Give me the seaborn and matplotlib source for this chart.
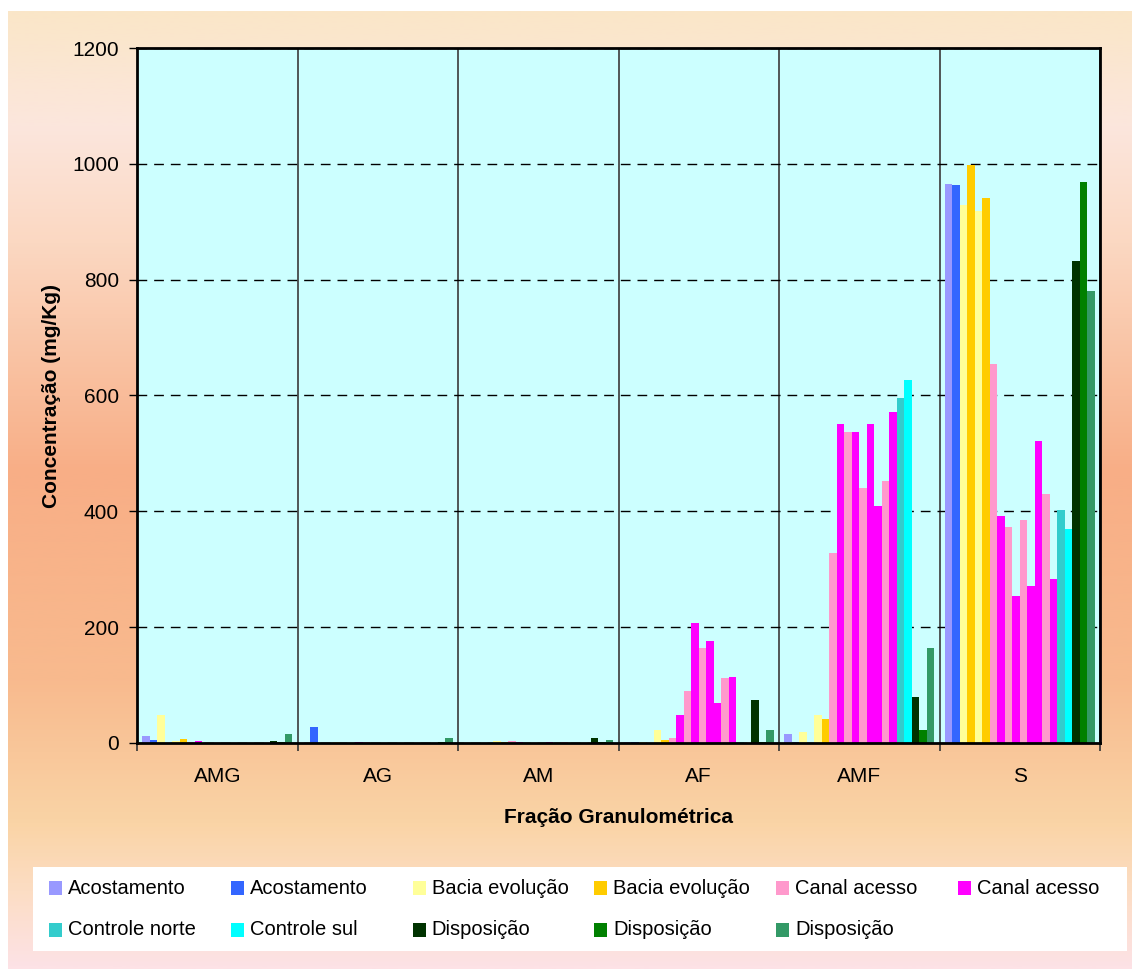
import numpy as np
import pandas as pd
import matplotlib
matplotlib.use("Agg")
import matplotlib.pyplot as plt
from matplotlib.colors import LinearSegmentedColormap
from matplotlib.patches import Rectangle
from matplotlib.ticker import FixedLocator, NullFormatter, FixedFormatter
import seaborn as sns

# ---- data -------------------------------------------------------------
categories = ["AMG", "AG", "AM", "AF", "AMF", "S"]

series_names = (["Acostamento"] * 2
                + ["Bacia evolução"] * 4
                + ["Canal acesso"] * 9
                + ["Controle norte", "Controle sul"]
                + ["Disposição"] * 3)

series_colors = ["#9999FF", "#3366FF",
                 "#FFFF99", "#FFCC00", "#FFFF99", "#FFCC00",
                 "#FF99CC", "#FF00FF", "#FF99CC", "#FF00FF", "#FF99CC",
                 "#FF00FF", "#FF00FF", "#FF99CC", "#FF00FF",
                 "#33CCCC", "#00FFFF",
                 "#003300", "#008000", "#339966"]

# concentration (mg/Kg) of each series, one list per granulometric fraction
amg = [11.5, 6, 48, 0.5, 3.5, 6.5, 1.5, 3.5, 0.5, 0.5,
       0.3, 0.3, 0.3, 0.3, 0.3, 0.3, 0.3, 3, 1, 15]
ag = [0.3, 27, 0.3, 0.3, 1, 0.3, 0.5, 1, 1, 0.3,
      0.3, 0.3, 0.3, 0.3, 0.3, 0.3, 0.3, 0.5, 1, 8]
am = [0.3, 0.3, 0.3, 0.3, 3, 1, 3.5, 1, 0.3, 0.3,
      0.3, 1, 0.3, 2, 0.3, 0.3, 0.3, 8, 1, 6]
af = [1.5, 1, 1, 0.3, 22, 6, 8, 48, 90, 207,
      164, 176, 69, 112, 114, 2, 0.3, 74, 1, 22]
amf = [16, 2, 19, 0.3, 48, 42, 328, 550, 537, 537,
       440, 550, 409, 452, 572, 595, 626, 80, 23, 164]
s = [966, 963, 929, 998, 918, 941, 654, 392, 373, 254,
     385, 271, 521, 430, 283, 403, 370, 832, 968, 780]

values_by_fraction = [amg, ag, am, af, amf, s]

# legend entries: (label, colour), unique pairs only
legend_labels = ["Acostamento", "Acostamento", "Bacia evolução", "Bacia evolução",
                 "Canal acesso", "Canal acesso", "Controle norte", "Controle sul",
                 "Disposição", "Disposição", "Disposição"]
legend_colors = ["#9999FF", "#3366FF", "#FFFF99", "#FFCC00", "#FF99CC", "#FF00FF",
                 "#33CCCC", "#00FFFF", "#003300", "#008000", "#339966"]

y_ticks = [0, 200, 400, 600, 800, 1000, 1200]

# ---- long table -------------------------------------------------------
series_ids = [f"s{i:02d}" for i in range(len(series_names))]
rows = []
for cat, vals in zip(categories, values_by_fraction):
    for sid, v in zip(series_ids, vals):
        rows.append({"Fração": cat, "serie": sid, "valor": v})
df = pd.DataFrame(rows)
palette = dict(zip(series_ids, series_colors))

# ---- figure -----------------------------------------------------------
sns.set_theme(style="white")
plt.rcParams["font.family"] = ["Liberation Sans", "DejaVu Sans"]
plt.rcParams["text.color"] = "black"
plt.rcParams["axes.labelcolor"] = "black"
plt.rcParams["xtick.color"] = "black"
plt.rcParams["ytick.color"] = "black"

W, H = 1132, 969
fig = plt.figure(figsize=(W / 100, H / 100), dpi=100)
fig.patch.set_facecolor("white")

# gradient chart-area background
bg = fig.add_axes([8 / W, 0, 1 - 8 / W, (H - 11) / H], zorder=-5)
grad_cmap = LinearSegmentedColormap.from_list(
    "bg",
    [(0.00, "#FAE6C8"), (0.12, "#FCE6DD"), (0.24, "#FBD8C2"),
     (0.48, "#F8AE86"), (0.70, "#F8BA8E"), (0.85, "#FAD4A6"),
     (0.92, "#FCDDC4"), (1.00, "#FDE2E6")])
bg.imshow(np.linspace(0, 1, 512).reshape(-1, 1), aspect="auto",
          cmap=grad_cmap, extent=[0, 1, 1, 0])
bg.set_axis_off()

ax = fig.add_axes([137 / W, 1 - 743 / H, (1100 - 137) / W, (743 - 48) / H])
ax.set_facecolor("#CCFFFF")

sns.barplot(data=df, x="Fração", y="valor", hue="serie",
            order=categories, hue_order=series_ids, palette=palette,
            saturation=1, width=0.935, gap=0, errorbar=None,
            edgecolor="none", linewidth=0, legend=False, ax=ax, zorder=2)

ax.set_xlim(-0.5, len(categories) - 0.5)
ax.set_ylim(0, 1200)
ax.set_axisbelow(True)

# y axis
ax.yaxis.set_major_locator(FixedLocator(y_ticks))
ax.set_yticklabels([str(t) for t in y_ticks])
ax.tick_params(axis="y", which="major", direction="out", length=6, width=1,
               color="black", labelcolor="black", pad=7, labelsize=15, left=True)
ax.yaxis.grid(True, color="black", linestyle=(0, (7, 5)), linewidth=1)

# x axis: boundaries as major ticks / separators, names centred as minor
bounds = np.arange(len(categories) + 1) - 0.5
ax.xaxis.set_major_locator(FixedLocator(bounds))
ax.xaxis.set_major_formatter(NullFormatter())
ax.xaxis.set_minor_locator(FixedLocator(np.arange(len(categories))))
ax.xaxis.set_minor_formatter(FixedFormatter(categories))
ax.tick_params(axis="x", which="major", direction="out", length=6, width=1.2,
               color="#333333", bottom=True)
ax.tick_params(axis="x", which="minor", length=0, pad=17, labelsize=15,
               labelcolor="black", bottom=True)
ax.xaxis.grid(True, which="major", color="#3A3A3A", linestyle="-", linewidth=1.2)

for sp in ax.spines.values():
    sp.set_visible(True)
    sp.set_color("black")
    sp.set_linewidth(2)

ax.set_xlabel("Fração Granulométrica", fontsize=15, fontweight="bold",
              labelpad=16, color="black")
ax.set_ylabel("Concentração (mg/Kg)", fontsize=15, fontweight="bold",
              labelpad=8, color="black")

# legend box
fig.add_artist(Rectangle((33 / W, 1 - 951 / H), (1127 - 33) / W, (951 - 867) / H,
                         transform=fig.transFigure, facecolor="white",
                         edgecolor="none", zorder=3))
ncol = 6
for i, (lab, col) in enumerate(zip(legend_labels, legend_colors)):
    r, c = divmod(i, ncol)
    x0 = 49 + c * 181.8
    yc = 888 + r * 41.5
    fig.add_artist(Rectangle((x0 / W, 1 - (yc + 7) / H), 13 / W, 14 / H,
                             transform=fig.transFigure, facecolor=col,
                             edgecolor="none", zorder=4))
    fig.text((x0 + 19) / W, 1 - yc / H, lab, fontsize=14.5, va="center",
             ha="left", color="black", zorder=5)

fig.savefig("out.png", dpi=100, facecolor=fig.get_facecolor())
